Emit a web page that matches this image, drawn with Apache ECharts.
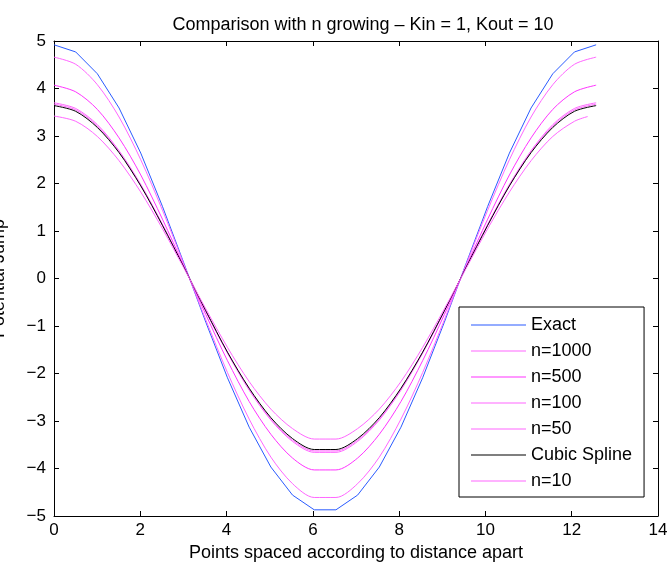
<!DOCTYPE html>
<html>
<head>
<meta charset="utf-8">
<script src="https://cdn.jsdelivr.net/npm/echarts@6/dist/echarts.min.js"></script>
<style>html,body{margin:0;padding:0;background:#fff}#c{width:669px;height:565px}</style>
</head>
<body>
<div id="c"></div>
<script>
const xGrid = [0, 0.503, 1.005, 1.508, 2.011, 2.513, 3.016, 3.519, 4.021, 4.524, 5.027, 5.529, 6.032, 6.535, 7.037, 7.540, 8.042, 8.545, 9.048, 9.550, 10.053, 10.556, 11.058, 11.561, 12.064, 12.566];
const xGridN10 = [0, 0.503, 1.005, 1.508, 2.011, 2.513, 3.016, 3.519, 4.021, 4.524, 5.027, 5.529, 6.032, 6.535, 7.037, 7.540, 8.042, 8.545, 9.048, 9.550, 10.053, 10.556, 11.058, 11.561, 12.064, 12.370];
const exact  = [4.92, 4.77, 4.31, 3.59, 2.64, 1.52, 0.31, -0.92, -2.09, -3.13, -3.97, -4.56, -4.87, -4.87, -4.56, -3.97, -3.13, -2.09, -0.92, 0.31, 1.52, 2.64, 3.59, 4.31, 4.77, 4.92];
const n1000  = [4.66, 4.51, 4.08, 3.40, 2.50, 1.44, 0.29, -0.87, -1.98, -2.96, -3.76, -4.32, -4.61, -4.61, -4.32, -3.76, -2.96, -1.98, -0.87, 0.29, 1.44, 2.50, 3.40, 4.08, 4.51, 4.66];
const n500   = [4.07, 3.93, 3.56, 2.96, 2.18, 1.25, 0.25, -0.76, -1.73, -2.59, -3.28, -3.78, -4.03, -4.03, -3.78, -3.28, -2.59, -1.73, -0.76, 0.25, 1.25, 2.18, 2.96, 3.56, 3.93, 4.07];
const n100   = [3.70, 3.58, 3.24, 2.69, 1.98, 1.14, 0.23, -0.69, -1.57, -2.35, -2.98, -3.43, -3.66, -3.66, -3.43, -2.98, -2.35, -1.57, -0.69, 0.23, 1.14, 1.98, 2.69, 3.24, 3.58, 3.70];
const n50    = [3.67, 3.55, 3.21, 2.67, 1.96, 1.13, 0.23, -0.69, -1.56, -2.33, -2.96, -3.40, -3.63, -3.63, -3.40, -2.96, -2.33, -1.56, -0.69, 0.23, 1.13, 1.96, 2.67, 3.21, 3.55, 3.67];
const cubic  = [3.64, 3.52, 3.18, 2.65, 1.95, 1.12, 0.23, -0.68, -1.55, -2.31, -2.93, -3.37, -3.60, -3.60, -3.37, -2.93, -2.31, -1.55, -0.68, 0.23, 1.12, 1.95, 2.65, 3.18, 3.52, 3.64];
const n10    = [3.42, 3.31, 2.99, 2.48, 1.82, 1.05, 0.21, -0.64, -1.45, -2.17, -2.75, -3.16, -3.38, -3.38, -3.16, -2.75, -2.17, -1.45, -0.64, 0.21, 1.05, 1.82, 2.48, 2.99, 3.31, 3.41];
const seriesNames = ['Exact', 'n=1000', 'n=500', 'n=100', 'n=50', 'Cubic Spline', 'n=10'];
const xTicks = [0, 2, 4, 6, 8, 10, 12, 14];
const yTicks = [-5, -4, -3, -2, -1, 0, 1, 2, 3, 4, 5];

const FONT = 'Liberation Sans';
function pairs(xs, ys) { return ys.map((y, i) => [xs[i], y]); }
const styles = [
  {c: '#2a5bff', smooth: false},
  {c: '#ff66ff', smooth: true},
  {c: '#ff33ff', smooth: true},
  {c: '#ff66ff', smooth: true},
  {c: '#ff66ff', smooth: true},
  {c: '#000000', smooth: true},
  {c: '#ff66ff', smooth: true}
];
const dataSets = [pairs(xGrid, exact), pairs(xGrid, n1000), pairs(xGrid, n500), pairs(xGrid, n100), pairs(xGrid, n50), pairs(xGrid, cubic), pairs(xGridN10, n10)];

const minus = v => String(v).replace('-', '\u2212');
const chart = echarts.init(document.getElementById('c'), null, {renderer: 'canvas'});
const axisLineStyle = {color: '#000', width: 1};
chart.setOption({
  animation: false,
  backgroundColor: '#fff',
  title: {
    text: 'Comparison with n growing \u2013 Kin = 1, Kout = 10',
    left: 358, top: 11, textAlign: 'center',
    textStyle: {fontFamily: FONT, fontSize: 18, fontWeight: 'normal', color: '#000'}
  },
  grid: {left: 54, right: 11, top: 41, bottom: 49, containLabel: false, outerBoundsMode: 'none'},
  legend: {
    orient: 'vertical', left: 459, top: 307,
    backgroundColor: '#fff', borderColor: '#000', borderWidth: 1,
    padding: [9, 12, 7, 12],
    itemWidth: 55, itemHeight: 1, itemGap: 8,
    data: seriesNames.map(n => ({name: n, icon: 'rect'})),
    textStyle: {fontFamily: FONT, fontSize: 18, color: '#000'}
  },
  xAxis: [{
    type: 'value', min: 0, max: 14, interval: 2, position: 'bottom',
    name: 'Points spaced according to distance apart', nameLocation: 'middle', nameGap: 25,
    nameTextStyle: {fontFamily: FONT, fontSize: 18, color: '#000'},
    axisLine: {show: true, onZero: false, lineStyle: axisLineStyle},
    axisTick: {show: true, inside: true, length: 5, lineStyle: axisLineStyle},
    axisLabel: {fontFamily: FONT, fontSize: 17, color: '#000', margin: 6, formatter: v => xTicks.includes(v) ? minus(v) : ''},
    splitLine: {show: false}
  }, {
    type: 'value', min: 0, max: 14, interval: 2, position: 'top',
    axisLine: {show: true, onZero: false, lineStyle: axisLineStyle},
    axisTick: {show: true, inside: true, length: 5, lineStyle: axisLineStyle},
    axisLabel: {show: false}, splitLine: {show: false}
  }],
  yAxis: [{
    type: 'value', min: -5, max: 5, interval: 1, position: 'left',
    name: 'Potential Jump', nameLocation: 'middle', nameGap: 46, nameRotate: 90,
    nameTextStyle: {fontFamily: FONT, fontSize: 18, color: '#000'},
    axisLine: {show: true, onZero: false, lineStyle: axisLineStyle},
    axisTick: {show: true, inside: true, length: 5, lineStyle: axisLineStyle},
    axisLabel: {fontFamily: FONT, fontSize: 17, color: '#000', margin: 8, formatter: v => yTicks.includes(v) ? minus(v) : ''},
    splitLine: {show: false}
  }, {
    type: 'value', min: -5, max: 5, interval: 1, position: 'right',
    axisLine: {show: true, onZero: false, lineStyle: axisLineStyle},
    axisTick: {show: true, inside: true, length: 5, lineStyle: axisLineStyle},
    axisLabel: {show: false}, splitLine: {show: false}
  }],
  series: seriesNames.map((name, i) => ({
    name: name, type: 'line', xAxisIndex: 0, yAxisIndex: 0,
    data: dataSets[i], symbol: 'none', showSymbol: false,
    smooth: styles[i].smooth ? 0.3 : false,
    lineStyle: {color: styles[i].c, width: 1},
    itemStyle: {color: styles[i].c},
    emphasis: {disabled: true}
  }))
});
</script>
</body>
</html>
